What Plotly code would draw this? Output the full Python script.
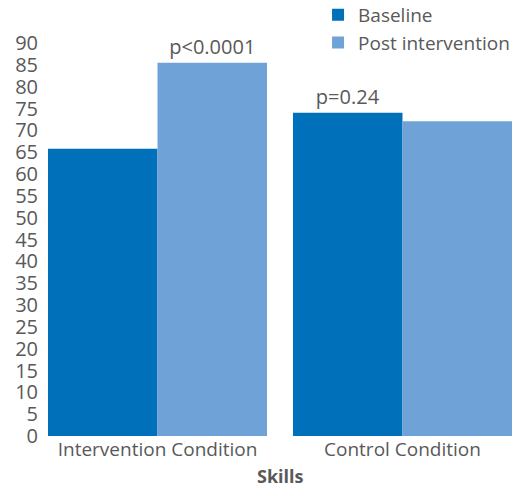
import plotly.graph_objects as go

categories = ["Intervention Condition", "Control Condition"]
baseline = [65.8, 74.0]
post = [85.5, 72.1]
baseline_labels = ["", "p=0.24"]
post_labels = ["p<0.0001", ""]
y_ticks = list(range(0, 91, 5))

FONT = "Open Sans, Noto Sans, sans-serif"
GREY = "#595959"
gap = 0.106

fig = go.Figure()
fig.add_trace(go.Bar(name="Baseline", x=categories, y=baseline,
                     marker=dict(color="#0070BA", line=dict(width=0)),
                     text=baseline_labels, textposition="outside", cliponaxis=False,
                     textfont=dict(size=20, color=GREY, family=FONT)))
fig.add_trace(go.Bar(name="Post intervention", x=categories, y=post,
                     marker=dict(color="#6FA3D8", line=dict(width=0)),
                     text=post_labels, textposition="outside", cliponaxis=False,
                     textfont=dict(size=20, color=GREY, family=FONT)))

fig.update_layout(
    width=512, height=489,
    barmode="group", bargap=gap, bargroupgap=0,
    plot_bgcolor="white", paper_bgcolor="white",
    margin=dict(l=48, r=0, t=43, b=53, autoexpand=False),
    font=dict(family=FONT, color=GREY, size=19),
    showlegend=True,
    legend=dict(x=0.582, y=1.12, xanchor="left", yanchor="top",
                font=dict(size=19, color=GREY, family=FONT),
                bgcolor="rgba(0,0,0,0)", itemwidth=30),
    annotations=[dict(text="<b>Skills</b>", x=0.5, y=-0.102, xref="paper", yref="paper",
                      xanchor="center", yanchor="middle", showarrow=False,
                      font=dict(size=18, color=GREY, family=FONT))],
)
fig.update_xaxes(range=[-0.5 + gap / 2, 1.5 - gap / 2], showline=False, showgrid=False,
                 ticks="", automargin=False, tickfont=dict(size=19, color=GREY, family=FONT))
fig.update_yaxes(range=[0, 90], tickvals=y_ticks, showline=False, showgrid=False, zeroline=False,
                 ticks="", automargin=False, ticklabelstandoff=9,
                 tickfont=dict(size=20, color=GREY, family=FONT))

fig.write_html("out.html", config={"displayModeBar": False})

# remove the default page margin so the 512x489 figure fills the window exactly
with open("out.html", encoding="utf-8") as f:
    html = f.read()
html = html.replace("<head>", "<head><style>html,body{margin:0;padding:0;overflow:hidden;}</style>", 1)
with open("out.html", "w", encoding="utf-8") as f:
    f.write(html)
